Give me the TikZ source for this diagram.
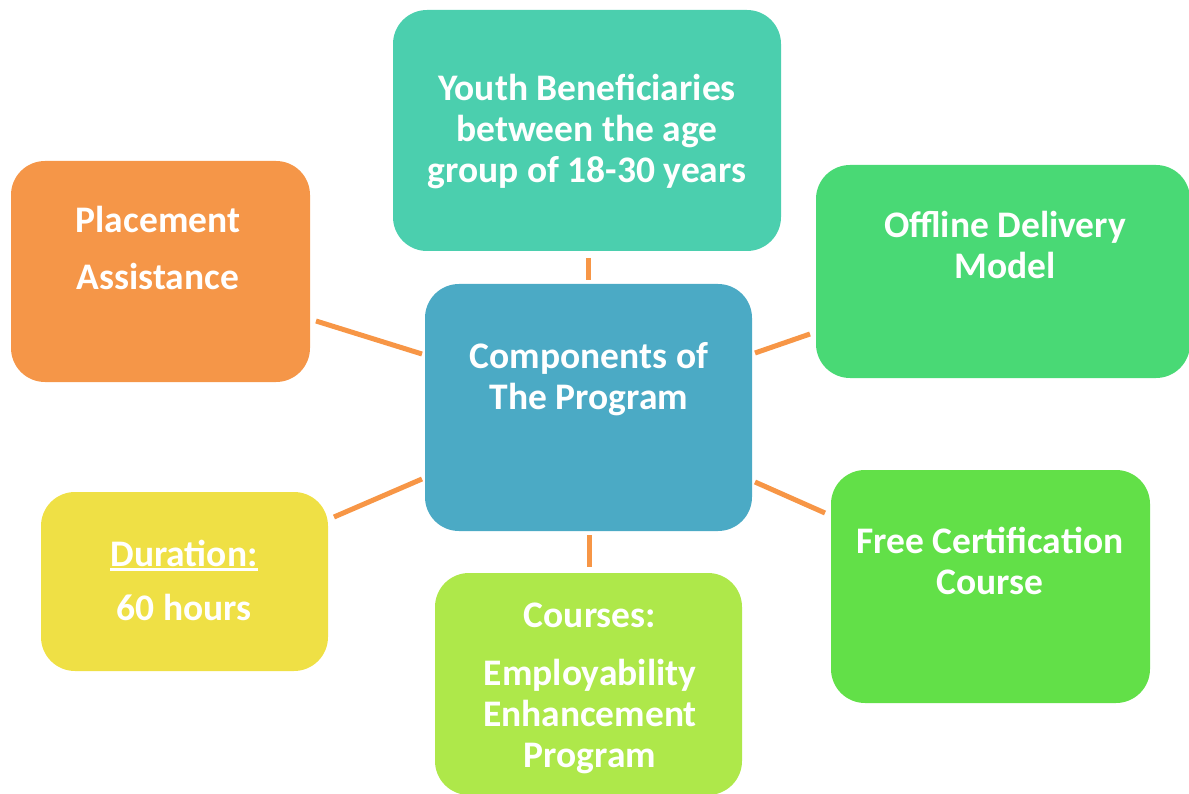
\documentclass[tikz,border=0pt]{standalone}
\usepackage{fontspec}
\setmainfont{Carlito}
\definecolor{cOrange}{HTML}{F59648}
\definecolor{cTeal}{HTML}{4BCFAE}
\definecolor{cBlue}{HTML}{4BAAC5}
\definecolor{cGreenA}{HTML}{49D975}
\definecolor{cGreenB}{HTML}{62E048}
\definecolor{cLime}{HTML}{AEE84A}
\definecolor{cYellow}{HTML}{EFE045}
\definecolor{cLink}{HTML}{F79646}
\newcommand\myuline[1]{\leavevmode\vtop{\hbox{#1}\kern2pt\hrule height 2.5pt}}
\begin{document}
\begin{tikzpicture}[x=1pt,y=-1pt,
  box/.style={rectangle, rounded corners=34pt, draw=none, inner sep=0pt},
  txt/.style={text=white, font=\bfseries\fontsize{37.5}{41}\selectfont, align=center, inner sep=0pt},
  link/.style={draw=cLink, line width=5pt}]
\useasboundingbox (0,0) rectangle (1189,794);
% boxes
\node[box, fill=cTeal, minimum width=388pt, minimum height=241pt] (youth) at (587,130.5) {};
\node[box, fill=cOrange, minimum width=299pt, minimum height=221pt] (place) at (160.5,271.5) {};
\node[box, fill=cBlue, minimum width=327pt, minimum height=247pt] (comp) at (588.5,407.5) {};
\node[box, fill=cGreenA, minimum width=374pt, minimum height=213pt] (offl) at (1003,271.5) {};
\node[box, fill=cGreenB, minimum width=319pt, minimum height=233pt] (cert) at (990.5,586.5) {};
\node[box, fill=cLime, minimum width=307pt, minimum height=222pt] (cour) at (588.5,684) {};
\node[box, fill=cYellow, minimum width=287pt, minimum height=179pt] (dura) at (184.5,581.5) {};
% texts
\node[txt] (youtht) at (587,131) {Youth Beneficiaries\\between the age\\group of 18-30 years};
\node[txt] (placet) at (158,248) {Placement\\[16pt]Assistance};
\node[txt] (compt) at (589,379) {Components of\\The Program};
\node[txt] (offlt) at (1005,245) {Offline Delivery\\Model};
\node[txt] (certt) at (990,561) {Free Certification\\Course};
\node[txt] (court) at (590,688) {Courses:\\[17pt]Employability\\Enhancement\\Program};
\node[txt] (durat) at (184,580) {\myuline{Duration:}\\[13pt]60 hours};
% connector end points
\coordinate (y1) at (588,258); \coordinate (y2) at (588,280);
\coordinate (p1) at (316,321); \coordinate (p2) at (422,354);
\coordinate (o1) at (755,353); \coordinate (o2) at (810,334);
\coordinate (d1) at (334,517); \coordinate (d2) at (422,479);
\coordinate (c1) at (589,535); \coordinate (c2) at (589,567);
\coordinate (f1) at (755,482); \coordinate (f2) at (825,513);
\draw[link] (y1) -- (y2);
\draw[link] (p1) -- (p2);
\draw[link] (o1) -- (o2);
\draw[link] (d1) -- (d2);
\draw[link] (c1) -- (c2);
\draw[link] (f1) -- (f2);
\end{tikzpicture}
\end{document}
